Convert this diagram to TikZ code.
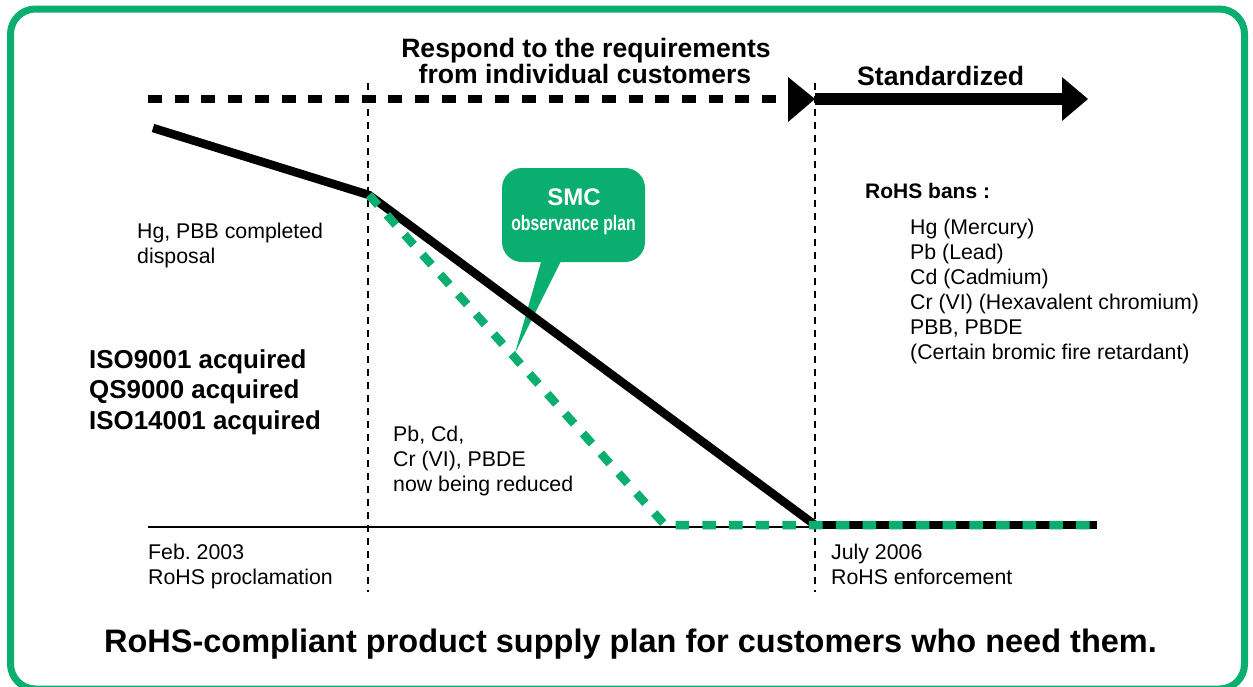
\documentclass[tikz,border=0pt]{standalone}
\usepackage{fontspec}
\setmainfont{Liberation Sans}
\usepackage{graphicx}
\definecolor{smcgreen}{RGB}{10,174,110}
\frenchspacing
\begin{document}
\begin{tikzpicture}[x=1pt,y=-1pt,
  txt/.style={anchor=base west, inner sep=0pt, font=\fontsize{21.3}{25}\selectfont},
  boldtxt/.style={anchor=base west, inner sep=0pt, font=\fontsize{25.9}{31}\selectfont\bfseries},
  headtxt/.style={anchor=base, inner sep=0pt, font=\fontsize{26.6}{28}\selectfont\bfseries},
  guide/.style={line width=2pt, dash pattern=on 6.5pt off 6.5pt},
  mainline/.style={line width=8.5pt, line cap=butt, line join=miter},
  greendash/.style={smcgreen, line width=8.5pt, line cap=butt, dash pattern=on 13.5pt off 13.2pt}
]
\useasboundingbox (0,0) rectangle (1253,686);
% frame
\begin{scope}
\clip (0,0) rectangle (1253,686);
\draw[smcgreen, line width=7pt, rounded corners=25pt] (10.5,9) rectangle (1244.5,689);
\end{scope}

% coordinates
\coordinate (b0) at (153,128);
\coordinate (b1) at (369,195);
\coordinate (b2) at (815,525);
\coordinate (g1) at (665,525);
\coordinate (e) at (1097,525);
\coordinate (base0) at (148,527);
\coordinate (v1t) at (368,83);
\coordinate (v1b) at (368,592);
\coordinate (v2t) at (815,83);
\coordinate (v2b) at (815,592);
\coordinate (top0) at (148,99);
\coordinate (top1) at (776,99);
\coordinate (std0) at (815,99);
\coordinate (std1) at (1088,99);

% guides
\draw[guide] (v1t) -- (v1b);
\draw[guide] (v2t) -- (v2b);
% base line
\draw[line width=2.5pt] (base0) -- (b2 |- base0);

% top dashed line and arrows
\draw[line width=8pt, dash pattern=on 14pt off 12.7pt] (top0) -- (top1);
\fill (788,77) -- (std0) -- (788,122) -- cycle;
\draw[line width=12pt] (std0) -- ([xshift=-26pt]std1);
\fill ([xshift=-26pt,yshift=-22pt]std1) -- (std1) -- ([xshift=-26pt,yshift=22pt]std1) -- cycle;

% SMC bubble
\node[fill=smcgreen, rounded corners=20pt, minimum width=143pt, minimum height=94pt, inner sep=0pt] (smc) at (573.5,215) {};
\fill[smcgreen] (543,255) -- (515,353) -- (564,255) -- cycle;
\node[anchor=base, inner sep=0pt, white, font=\fontsize{24}{26}\selectfont\bfseries] (smct) at (574,205) {SMC};
\node[anchor=base, inner sep=0pt, white, font=\fontsize{21}{24}\selectfont\bfseries] (smco) at (573.5,230) {\scalebox{0.75}[1]{observance plan}};

% black main line
\draw[mainline] (b0) -- (b1) -- (b2);
% black end segment
\draw[mainline] (b2) -- (e);
% green dashed line
\draw[greendash] (b1) -- (g1) -- (e);

% top labels
\node[headtxt] (resp1) at (586,57) {Respond to the requirements};
\node[headtxt] (resp2) at (585,83) {from individual customers};
\node[anchor=base west, inner sep=0pt, font=\fontsize{26.6}{28}\selectfont\bfseries] (std) at (857,85) {Standardized};

% left texts
\node[txt] (hg1) at (137,238) {Hg, PBB completed};
\node[txt] (hg2) at (137,263) {disposal};
\node[boldtxt] (iso1) at (89,368) {ISO9001 acquired};
\node[boldtxt] (iso2) at (89,398) {QS9000 acquired};
\node[boldtxt] (iso3) at (89,429) {ISO14001 acquired};

\node[txt] (pb1) at (393,441) {Pb, Cd,};
\node[txt] (pb2) at (393,466) {Cr (VI), PBDE};
\node[txt] (pb3) at (393,491) {now being reduced};

\node[txt] (feb1) at (148,559) {Feb. 2003};
\node[txt] (feb2) at (148,584) {RoHS proclamation};
\node[txt] (jul1) at (831,559) {July 2006};
\node[txt] (jul2) at (831,584) {RoHS enforcement};

% RoHS bans
\node[anchor=base west, inner sep=0pt, font=\fontsize{21}{25}\selectfont\bfseries] (bans) at (865,198) {RoHS bans :};
\node[txt] (l1) at (910,234) {Hg (Mercury)};
\node[txt] (l2) at (910,259) {Pb (Lead)};
\node[txt] (l3) at (910,284) {Cd (Cadmium)};
\node[txt] (l4) at (910,309) {Cr (VI) (Hexavalent chromium)};
\node[txt] (l5) at (910,334) {PBB, PBDE};
\node[txt] (l6) at (910,359) {(Certain bromic fire retardant)};

% bottom title
\node[anchor=base, inner sep=0pt, font=\fontsize{32.5}{36}\selectfont\bfseries] (title) at (630.5,652) {RoHS-compliant product supply plan for customers who need them.};
\end{tikzpicture}
\end{document}
